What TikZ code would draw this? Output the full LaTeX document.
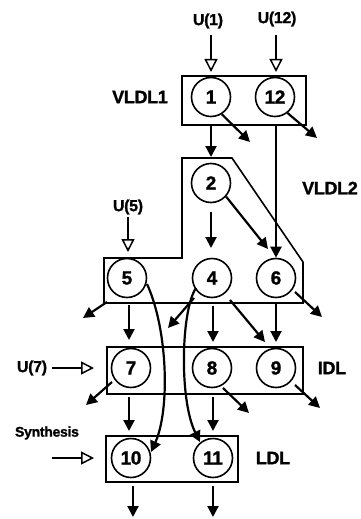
\documentclass[tikz,border=0pt]{standalone}
\usepackage{fontspec}
\setmainfont{Liberation Sans}[BoldFeatures={FakeBold=1.3,LetterSpace=-2}]
\usetikzlibrary{arrows.meta}
\newcommand\fsz[1]{\fontsize{#1}{#1}\selectfont\bfseries}
\begin{document}
\begin{tikzpicture}[x=1pt,y=-1pt,
  st/.style={circle, draw, line width=1.6pt, minimum size=39pt, inner sep=0pt, font=\fsz{19}},
  boxn/.style={draw, line width=1.6pt, inner sep=0pt},
  boxl/.style={draw, line width=1.6pt, line join=miter},
  lab/.style={inner sep=0pt, font=\fsz{18}},
  ulab/.style={inner sep=0pt, font=\fsz{16}},
  slab/.style={inner sep=0pt, font=\fsz{14}},
  arr/.style={line width=2.2pt, -{Triangle[length=11pt,width=11pt]}},
  inarr/.style={line width=2.2pt, -{Triangle[open,length=13pt,width=13pt,line width=1.5pt]}}]
\useasboundingbox (0,0) rectangle (360,519);
% boxes
\node[boxn, minimum width=124pt, minimum height=49pt] (b1) at (244,100.5) {};
\draw[boxl] (182,158) -- (232,158) -- (303,262) -- (303,303) -- (104,303) -- (104,258) -- (182,258) -- cycle;
\node[boxn, minimum width=196pt, minimum height=47pt] (bidl) at (205,370.5) {};
\node[boxn, minimum width=132pt, minimum height=46pt] (bldl) at (172,459) {};
% compartments
\node[st] (c1) at (211,97) {1};
\node[st] (c12) at (275,97) {12};
\node[st] (c2) at (211,183) {2};
\node[st] (c5) at (127,278) {5};
\node[st] (c4) at (212,278) {4};
\node[st] (c6) at (276,278) {6};
\node[st] (c7) at (131,368) {7};
\node[st] (c8) at (212,368) {8};
\node[st] (c9) at (276,368) {9};
\node[st] (c10) at (131,458) {10};
\node[st] (c11) at (213,458) {11};
% labels
\node[lab] (lv1) at (140,97) {VLDL1};
\node[lab] (lv2) at (330,188) {VLDL2};
\node[lab] (lidl) at (332,368) {IDL};
\node[lab] (lldl) at (273,458) {LDL};
\node[ulab] (u1) at (208,21) {U(1)};
\node[ulab] (u12) at (277,19) {U(12)};
\node[ulab] (u5) at (128,207) {U(5)};
\node[ulab] (u7) at (32,368) {U(7)};
\node[slab] (syn) at (47,433) {Synthesis};
% coordinates
\coordinate (u1s) at (211,35);  \coordinate (u1e) at (211,72);
\coordinate (u12s) at (276,35); \coordinate (u12e) at (276,72);
\coordinate (a12s) at (211,126); \coordinate (a12e) at (211,157);
\coordinate (o1) at (250,142);
\coordinate (o12) at (317,138);
\coordinate (s126) at (276,126);
\coordinate (a24s) at (211,212); \coordinate (a24e) at (211,248);
\coordinate (a26e) at (268,249);
\coordinate (u5s) at (128,217); \coordinate (u5e) at (128,252);
\coordinate (o5s) at (107,302); \coordinate (o5e) at (83,318);
\coordinate (a57s) at (129,305); \coordinate (a57e) at (129,340);
\coordinate (a510s) at (147,284); \coordinate (a510e) at (151,452);
\coordinate (a411s) at (196,288); \coordinate (a411e) at (200,442);
\coordinate (o4s) at (194,298); \coordinate (o4e) at (168,328);
\coordinate (a48s) at (213,306); \coordinate (a48e) at (213,342);
\coordinate (a49s) at (230,300); \coordinate (a49e) at (265,342);
\coordinate (a69s) at (276,304); \coordinate (a69e) at (276,342);
\coordinate (o6s) at (295,292); \coordinate (o6e) at (322,317);
\coordinate (u7s) at (52,368); \coordinate (u7e) at (94,368);
\coordinate (o7s) at (112,382); \coordinate (o7e) at (86,405);
\coordinate (a710s) at (129,397); \coordinate (a710e) at (129,431);
\coordinate (o8s) at (223,388); \coordinate (o8e) at (249,413);
\coordinate (a811s) at (213,397); \coordinate (a811e) at (213,431);
\coordinate (o9s) at (295,385); \coordinate (o9e) at (320,408);
\coordinate (sys) at (52,458); \coordinate (sye) at (94,458);
\coordinate (o10s) at (133,486); \coordinate (o10e) at (133,517);
\coordinate (o11s) at (213,486); \coordinate (o11e) at (213,517);
% inputs
\draw[inarr] (u1s) -- (u1e);
\draw[inarr] (u12s) -- (u12e);
\draw[inarr] (u5s) -- (u5e);
\draw[inarr] (u7s) -- (u7e);
\draw[inarr] (sys) -- (sye);
% transfers
\draw[arr] (a12s) -- (a12e);
\draw[arr] (c1.-58) -- (o1);
\draw[arr] (c12.-52) -- (o12);
\draw[arr] (s126) -- (c6.north);
\draw[arr] (a24s) -- (a24e);
\draw[arr] (c2.-42) -- (a26e);
\draw[arr] (o5s) -- (o5e);
\draw[arr] (a57s) -- (a57e);
\draw[arr] (a510s) .. controls (168,330) and (170,410) .. (a510e);
\draw[arr] (a411s) .. controls (181,310) and (179,400) .. (a411e);
\draw[arr] (o4s) -- (o4e);
\draw[arr] (a48s) -- (a48e);
\draw[arr] (a49s) -- (a49e);
\draw[arr] (a69s) -- (a69e);
\draw[arr] (o6s) -- (o6e);
\draw[arr] (o7s) -- (o7e);
\draw[arr] (a710s) -- (a710e);
\draw[arr] (o8s) -- (o8e);
\draw[arr] (a811s) -- (a811e);
\draw[arr] (o9s) -- (o9e);
\draw[arr] (o10s) -- (o10e);
\draw[arr] (o11s) -- (o11e);
\end{tikzpicture}
\end{document}
